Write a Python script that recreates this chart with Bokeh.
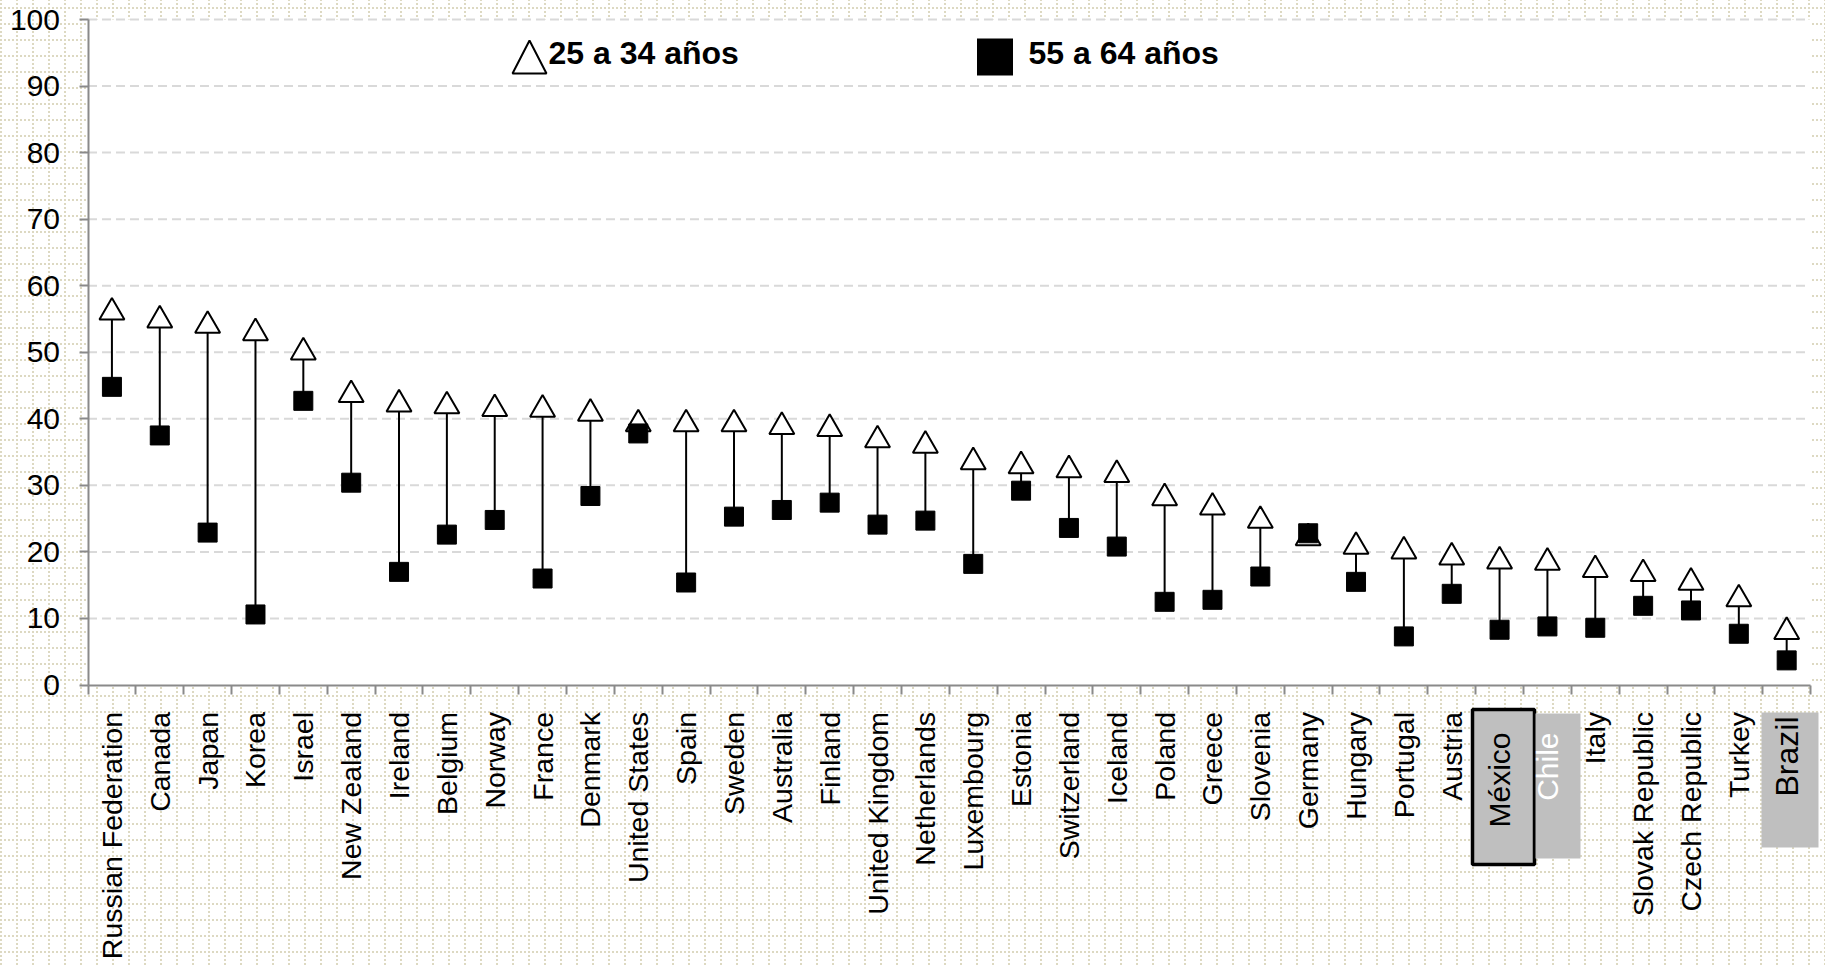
import math
from bokeh.plotting import figure
from bokeh.models import LinearAxis, FixedTicker, Range1d, Label
from bokeh.embed import file_html
from bokeh.resources import INLINE

# ---------------- data ----------------
countries = ["Russian Federation", "Canada", "Japan", "Korea", "Israel", "New Zealand",
             "Ireland", "Belgium", "Norway", "France", "Denmark", "United States",
             "Spain", "Sweden", "Australia", "Finland", "United Kingdom", "Netherlands",
             "Luxembourg", "Estonia", "Switzerland", "Iceland", "Poland", "Greece",
             "Slovenia", "Germany", "Hungary", "Portugal", "Austria", "México",
             "Chile", "Italy", "Slovak Republic", "Czech Republic", "Turkey", "Brazil"]
age_25_34 = [56.0, 54.8, 54.0, 52.9, 50.0, 43.6, 42.2, 41.9, 41.5, 41.4, 40.8, 39.2,
             39.2, 39.2, 38.8, 38.5, 36.8, 36.0, 33.5, 32.9, 32.3, 31.6, 28.1, 26.7,
             24.7, 22.1, 20.8, 20.1, 19.2, 18.6, 18.4, 17.3, 16.7, 15.4, 12.9, 8.0]
age_55_64 = [44.8, 37.5, 22.9, 10.6, 42.7, 30.4, 17.0, 22.6, 24.8, 16.0, 28.4, 37.8,
             15.4, 25.3, 26.3, 27.4, 24.1, 24.7, 18.2, 29.2, 23.6, 20.8, 12.5, 12.8,
             16.3, 22.8, 15.5, 7.3, 13.7, 8.3, 8.8, 8.6, 11.9, 11.2, 7.7, 3.7]
y_ticks = [0, 10, 20, 30, 40, 50, 60, 70, 80, 90, 100]
legend_labels = ["25 a 34 años", "55 a 64 años"]
# labels drawn in their own grey boxes: (name, text colour, top of text in px, size)
boxed_labels = [("México", "black", 732, "30px"), ("Chile", "white", 732, "30px"),
                ("Brazil", "black", 716, "32px")]

# ---------------- layout (pixels of the canvas) ----------------
W, H = 1825, 966
X0, SX = 87.5, 47.85      # px of category 0 left edge, px per category
Y0, SY = 684.5, 6.655     # px of value 0, px per unit

def px2x(px):
    return (px - X0) / SX

def px2y(py):
    return (Y0 - py) / SY

n = len(countries)
xc = [i + 0.5 for i in range(n)]
YMAX = y_ticks[-1]

FONT = "Liberation Sans"
AXIS_GREY = "#8a8a8a"

p = figure(width=W, height=H, output_backend="svg", toolbar_location=None,
           x_range=Range1d(px2x(0), px2x(W)), y_range=Range1d(px2y(H), px2y(0)),
           x_axis_location=None, y_axis_location=None, title=None,
           min_border=0, min_border_left=0, min_border_right=0,
           min_border_top=0, min_border_bottom=0)
p.outline_line_color = None
p.border_fill_color = None
p.background_fill_color = None
p.xgrid.visible = False
p.ygrid.visible = False

tile = ("<svg xmlns='http://www.w3.org/2000/svg' width='16' height='16'>"
        "<g fill='%23ddd9c2'>"
        "<rect x='0' y='0' width='2' height='2'/><rect x='0' y='4' width='2' height='2'/>"
        "<rect x='0' y='8' width='2' height='2'/><rect x='0' y='12' width='2' height='2'/>"
        "<rect x='4' y='0' width='2' height='2'/><rect x='8' y='0' width='2' height='2'/>"
        "<rect x='12' y='0' width='2' height='2'/></g></svg>")
p.styles = {"background-color": "white",
            "background-image": 'url("data:image/svg+xml;utf8,' + tile + '")',
            "background-position": "0px 7px"}

# white plot area
p.quad(left=0, right=n, bottom=0, top=YMAX, fill_color="white", line_color=None)

# dashed horizontal gridlines
gl = [t for t in y_ticks if t > 0]
p.segment(x0=[0] * len(gl), x1=[n - 0.1] * len(gl), y0=gl, y1=gl,
          line_color="#d9d9d9", line_width=2, line_dash="9 5")

# highlight boxes behind category labels
p.quad(left=[px2x(1472)], right=[px2x(1534)], top=[px2y(709)], bottom=[px2y(864)],
       fill_color="#bfbfbf", line_color="black", line_width=3.5)
p.quad(left=[px2x(1535), px2x(1761)], right=[px2x(1580), px2x(1818)],
       top=[px2y(713), px2y(712)], bottom=[px2y(858), px2y(847)],
       fill_color="#bfbfbf", line_color=None)

# connectors and markers
p.segment(x0=xc, x1=xc, y0=age_55_64, y1=age_25_34, line_color="black", line_width=2)
p.scatter(xc, age_25_34, marker="triangle", size=25, fill_color="white",
          line_color="black", line_width=2)
p.scatter(xc, age_55_64, marker="square", size=19, fill_color="black", line_color="black")

# y axis
yax = LinearAxis(fixed_location=0, bounds=(0, YMAX), ticker=FixedTicker(ticks=y_ticks))
yax.axis_line_color = AXIS_GREY
yax.axis_line_width = 2
yax.major_tick_line_color = AXIS_GREY
yax.major_tick_line_width = 2
yax.major_tick_out = 9
yax.major_tick_in = 0
yax.minor_tick_line_color = None
yax.major_label_standoff = 19
yax.major_label_text_font = FONT
yax.major_label_text_font_size = "30px"
yax.major_label_text_color = "black"
p.add_layout(yax, "left")

# x axis: boundary ticks
xt = LinearAxis(fixed_location=0, bounds=(0, n), ticker=FixedTicker(ticks=list(range(n + 1))))
xt.axis_line_color = AXIS_GREY
xt.axis_line_width = 2
xt.major_tick_line_color = AXIS_GREY
xt.major_tick_line_width = 2
xt.major_tick_out = 9
xt.major_tick_in = 0
xt.minor_tick_line_color = None
xt.major_label_text_color = None
xt.major_label_text_font_size = "1px"
p.add_layout(xt, "below")

# x axis: category labels
boxed_names = [b[0] for b in boxed_labels]
overrides = {}
for i, c in enumerate(countries):
    overrides[xc[i]] = "" if c in boxed_names else c
xl = LinearAxis(fixed_location=0, bounds=(0, n), ticker=FixedTicker(ticks=xc),
                major_label_overrides=overrides)
xl.axis_line_color = None
xl.major_tick_line_color = None
xl.major_tick_out = 0
xl.major_tick_in = 0
xl.minor_tick_line_color = None
xl.major_label_orientation = math.pi / 2
xl.major_label_standoff = 27
xl.major_label_text_font = FONT
xl.major_label_text_font_size = "28.5px"
xl.major_label_text_color = "black"
p.add_layout(xl, "below")

for name, col, top, fs in boxed_labels:
    p.add_layout(Label(x=xc[countries.index(name)], y=px2y(top), text=name,
                       angle=math.pi / 2, text_align="right", text_baseline="middle",
                       text_color=col, text_font=FONT, text_font_size=fs))

# legend
p.patch([px2x(512), px2x(546), px2x(529)], [px2y(73), px2y(73), px2y(40)],
        fill_color="white", line_color="black", line_width=2)
p.rect([px2x(994.5)], [px2y(56.5)], width=36, height=37, width_units="screen",
       height_units="screen", fill_color="black", line_color=None)
p.add_layout(Label(x=px2x(548), y=px2y(52.5), text=legend_labels[0], text_font=FONT,
                   text_color="black", text_font_size="32px", text_font_style="bold",
                   text_baseline="alphabetic"))
p.add_layout(Label(x=px2x(1028), y=px2y(52.5), text=legend_labels[1], text_font=FONT,
                   text_color="black", text_font_size="32px", text_font_style="bold",
                   text_baseline="alphabetic"))

open("out.html", "w").write(file_html(p, INLINE))
